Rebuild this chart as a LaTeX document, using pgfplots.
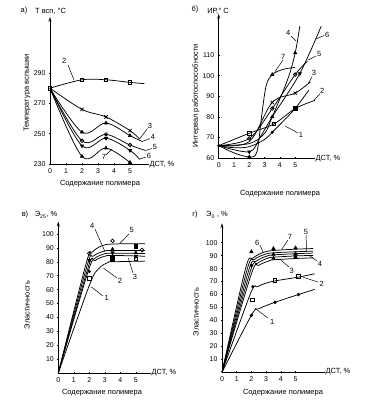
\documentclass[border=0pt]{standalone}
\usepackage{pgfplots}
\pgfplotsset{compat=1.18}
\usepackage{fontspec}
\setmainfont{Liberation Sans}
\usetikzlibrary{arrows.meta}
\newcommand{\lab}[3]{\node[font=\fontsize{7.5}{8}\selectfont,inner sep=0.5pt] at (#1bp,-#2bp) {#3};}
\newcommand{\ld}[4]{\draw[line width=0.5pt] (#1bp,-#2bp) -- (#3bp,-#4bp);}
\pgfplotsset{
  panel/.style={anchor=south west, axis lines=left, enlargelimits=false, clip=false,
    axis line style={line width=0.8pt,-{Stealth[length=5pt,width=3pt]}},
    tick style={black,line width=0.5pt}, major tick length=2pt,
    ticklabel style={font=\fontsize{7}{8}\selectfont},
    /pgf/number format/assume math mode=true,
    mark size=1.8pt,
    every axis plot/.append style={black,line width=0.75pt},
  },
  cv/.style={smooth,tension=0.55},
}
\begin{document}
\begin{tikzpicture}
\useasboundingbox (0,0) rectangle (367bp,-402bp);

% ---------------- panel a
\begin{axis}[panel, at={(50bp,-164bp)}, x=16bp, y=1.517bp,
  xmin=0,xmax=7.7,ymin=230,ymax=327, xtick={0,1,2,3,4,5}, ytick={230,250,270,290}]
\addplot[cv, mark=square, mark indices={1,2,3,4}] coordinates {(0,280)(2,285.5)(3.5,285.5)(5,283.8)(5.9,283)};
\addplot[cv, mark=x, mark size=2.3pt, mark indices={2,3,4}] coordinates {(0,280)(2,266)(3.5,261)(5,252)(5.6,246.5)};
\addplot[cv, mark=triangle*, mark indices={2,3,4}] coordinates {(0,280)(2,251)(3.5,257)(5,248.7)(5.73,245)};
\addplot[cv, mark=o, mark indices={2,3,4}] coordinates {(0,280)(2,245.3)(3.5,249.5)(5,242.5)(5.94,239)};
\addplot[cv, mark=triangle*, mark options={rotate=180}, mark indices={2,3,4}] coordinates {(0,280)(2,242)(3.5,247)(5,239)(5.6,233)};
\addplot[cv, mark=triangle*, mark indices={2,3,4}] coordinates {(0,280)(2,235)(3.5,240.5)(5,231)};
\end{axis}

% ---------------- panel b
\begin{axis}[panel, at={(218.7bp,-158bp)}, x=15.3bp, y=2.06bp,
  xmin=0,xmax=8,ymin=60,ymax=130, xtick={0,1,2,3,4,5}, ytick={60,70,80,90,100,110}]
\addplot[cv, mark=*, mark size=1.2pt, mark indices={1,5}] coordinates {(0,66)(1,65)(2,65.5)(3,69)(3.5,72.5)(4.5,80)(5,84)(5.9,93)};
\addplot[cv, mark=square, mark indices={2,3}] coordinates {(0,66)(2,72)(3.6,76.5)(5,84)(6.3,88)};
\addplot[only marks, mark=square*] coordinates {(5,84)};
\addplot[cv, mark=x, mark size=2.3pt, mark indices={3,4}] coordinates {(0,66)(2,68)(3.5,87)(5,91.5)(6,97)};
\addplot[cv, mark=triangle*, mark indices={4,6}] coordinates {(0,66)(2,67)(3,72)(3.5,80)(4.5,98)(5,111)(5.3,124)};
\addplot[cv, mark=o, mark indices={2,3,4}] coordinates {(0,66)(2,69.5)(3.5,84)(5,100.5)(5.8,107)};
\addplot[cv, mark=triangle*, mark options={rotate=180}, mark indices={2,5}] coordinates {(0,66)(2,63)(2.7,70)(3.5,80)(5.3,101)(6.7,124)};
\addplot[cv, mark=triangle*, mark indices={3,7}] coordinates {(0,66)(1,62.5)(2,60.5)(2.5,63)(2.8,80)(3.1,95)(3.5,100.5)(4.2,103)(5,104)};
\end{axis}

% ---------------- panel v
\begin{axis}[panel, at={(58.3bp,-373bp)}, x=15.5bp, y=1.39bp,
  xmin=0,xmax=7.5,ymin=0,ymax=109, xtick={0,1,2,3,4,5}, ytick={10,20,30,40,50,60,70,80,90,100}]
\addplot[cv] coordinates {(0,0)(2,63)(2.6,75)(3.2,79.5)(3.5,80)(5.6,80.5)};
\addplot[only marks, mark=square] coordinates {(2,68)(3.5,81.5)(5,82)};
\addplot[cv] coordinates {(0,0)(1.95,74)(2.4,81)(3.0,84)(3.5,84.6)(5.6,84)};
\addplot[cv] coordinates {(0,0)(1.9,75)(2.3,82)(2.9,85.5)(3.5,86.2)(5.6,86)};
\addplot[cv] coordinates {(0,0)(1.85,77)(2.25,84)(2.9,87.5)(3.5,88.2)(5.6,88)};
\addplot[cv] coordinates {(0,0)(1.8,79)(2.2,87)(2.8,91.5)(3.5,92.8)(5.6,93)};
\addplot[only marks, mark=o] coordinates {(2,86)(3.5,95)(5.4,88.5)};
\addplot[only marks, mark=triangle*] coordinates {(3.5,89)(5,86.5)};
\addplot[only marks, mark=triangle*, mark options={rotate=180}] coordinates {(2,81)(3.5,86.5)(5,84)};
\addplot[only marks, mark=square*] coordinates {(5,91)(3.5,82.5)};
\addplot[only marks, mark=*, mark size=1.2pt] coordinates {(2,73)};
\end{axis}

% ---------------- panel g
\begin{axis}[panel, at={(222bp,-372.3bp)}, x=14.7bp, y=1.296bp,
  xmin=0,xmax=8.4,ymin=0,ymax=115, xtick={0,1,2,3,4,5}, ytick={10,20,30,40,50,60,70,80,90,100}]
\addplot[cv, mark=*, mark size=1.3pt, mark indices={2,4,5}] coordinates {(0,0)(2,44)(2.5,49)(3.6,54)(5.2,60)(6.3,64)};
\addplot[cv] coordinates {(0,0)(1.95,61)(2.4,66)(3,68.8)(3.6,70.5)(5.2,73.5)(6.3,76)};
\addplot[only marks, mark=square] coordinates {(2.05,56)(3.6,71)(5.2,73.8)};
\addplot[cv] coordinates {(0,0)(2,76)(2.5,82.5)(3.2,86)(3.5,86.8)(5,87.8)(6.2,88.3)};
\addplot[cv] coordinates {(0,0)(1.9,77)(2.4,84)(3.1,88)(3.5,88.8)(5,89.8)(6.2,90.2)};
\addplot[cv] coordinates {(0,0)(1.8,78)(2.3,85.5)(3,89.5)(3.5,90.6)(5,91.5)(6.2,92)};
\addplot[cv] coordinates {(0,0)(1.7,79)(2.2,87)(2.9,91)(3.5,92.2)(5,93)(6.2,93.5)};
\addplot[cv] coordinates {(0,0)(1.6,80)(2.1,88)(2.8,92.5)(3.5,94)(5,95)(6.2,95.5)};
\addplot[only marks, mark=triangle*] coordinates {(3.5,95.5)(5,96)(3.5,91)(5,91.5)(3.5,88)(5,89)(2,93)};
\addplot[only marks, mark=o] coordinates {(5,90)};
\addplot[only marks, mark=*, mark size=1.3pt] coordinates {(2,82.5)(2.1,66)};
\end{axis}

% ---------------- texts panel a
\lab{24}{11}{а)}
\node[font=\fontsize{7.5}{8}\selectfont,anchor=west,inner sep=0pt] at (35bp,-11bp) {Т всп, °С};
\node[font=\fontsize{7.5}{8}\selectfont,rotate=90] at (27bp,-93bp) {Температура вспышки};
\lab{100}{184}{Содержание полимера}
\node[font=\fontsize{7.5}{8}\selectfont,fill=white,inner sep=0.5pt] at (162bp,-165bp) {ДСТ, \%};
\lab{64.3}{61}{2}\ld{68}{65}{74}{80}
\lab{150}{126}{3}\ld{139.6}{139}{147.5}{128.5}
\lab{153}{137}{4}\ld{141.7}{141.7}{150}{138.5}
\lab{155}{147}{5}\ld{145}{150.7}{152}{148.5}
\lab{149}{156}{6}\ld{140}{159}{146}{157}
\lab{104}{157}{7}\ld{106}{155}{112}{149}

% ---------------- texts panel b
\lab{195}{10}{б)}
\lab{218}{11}{ИР,° С}
\node[font=\fontsize{7.5}{8}\selectfont,rotate=90] at (196bp,-96bp) {Интервал работоспособности};
\lab{280}{194}{Содержание полимера}
\node[font=\fontsize{7.5}{8}\selectfont,fill=white,inner sep=0.5pt] at (328bp,-159bp) {ДСТ, \%};
\lab{301}{135}{1}\ld{298}{133}{285}{126}
\lab{322.3}{91}{2}\ld{314}{100}{320}{94}
\lab{314}{73.3}{3}\ld{308.3}{83.3}{312}{77}
\lab{288.3}{33.3}{4}\ld{296}{41}{291}{36}
\lab{319.3}{54.3}{5}\ld{308.3}{60}{316}{56}
\lab{327.3}{35}{6}\ld{316}{39}{324}{35.5}
\lab{283.3}{56.7}{7}\ld{283}{60}{275}{71.7}

% ---------------- texts panel v
\lab{25}{215}{в)}
\lab{46}{215}{Э\textsubscript{25}, \%}
\node[font=\fontsize{7.5}{8}\selectfont,rotate=90] at (27bp,-305bp) {Эластичность};
\lab{102}{393}{Содержание полимера}
\node[font=\fontsize{7.5}{8}\selectfont,fill=white,inner sep=0.5pt] at (164bp,-373bp) {ДСТ, \%};
\lab{106.7}{298.3}{1}\ld{103}{296}{91}{286.7}
\lab{120}{281}{2}\ld{117}{278}{103.3}{268}
\lab{135}{276.7}{3}\ld{133}{273}{128.3}{258}
\lab{92.3}{226}{4}\ld{95}{229}{105}{251.7}
\lab{131.7}{230}{5}\ld{129}{234}{120}{243.3}

% ---------------- texts panel g
\lab{195}{215}{г)}
\lab{217}{215}{Э\textsubscript{0} , \%}
\node[font=\fontsize{7.5}{8}\selectfont,rotate=90] at (196bp,-312bp) {Эластичность};
\lab{283}{393}{Содержание полимера}
\node[font=\fontsize{7.5}{8}\selectfont,fill=white,inner sep=0.5pt] at (338bp,-372bp) {ДСТ, \%};
\lab{272.3}{321.7}{1}\ld{268}{318}{255}{308.3}
\lab{321.7}{284}{2}\ld{318}{282}{303.3}{277.3}
\lab{291.7}{270.7}{3}\ld{289}{267}{280}{259.3}
\lab{320}{264.3}{4}\ld{317}{261}{310}{256}
\lab{306}{231.7}{5}\ld{306}{235}{306.7}{251}
\lab{257.3}{242.7}{6}\ld{260}{245}{263.3}{252.7}
\lab{290}{236.7}{7}\ld{288}{240}{281.7}{249.3}
\end{tikzpicture}
\end{document}
